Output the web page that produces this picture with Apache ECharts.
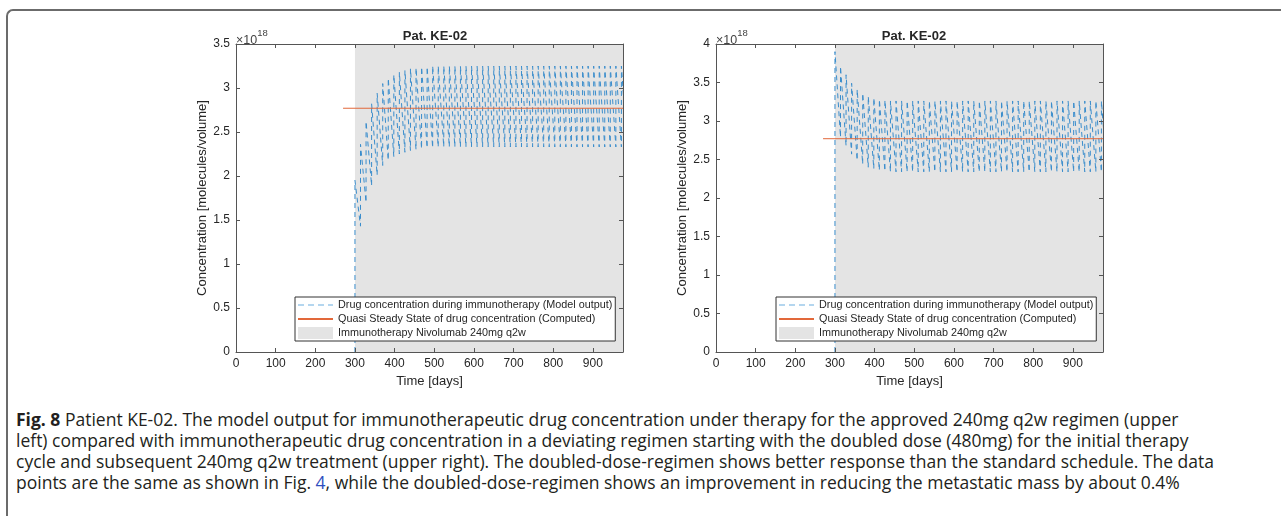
<!DOCTYPE html>
<html>
<head>
<meta charset="utf-8">
<script src="https://cdn.jsdelivr.net/npm/echarts@6/dist/echarts.min.js"></script>
<style>
  html, body { margin: 0; padding: 0; background: #fff; }
  #wrap { position: relative; width: 1281px; height: 516px; overflow: hidden; }
  #frame {
    position: absolute; left: 6px; top: 9px; width: 1300px; height: 560px;
    border-top: 2px solid #6b6b6b; border-left: 2px solid #6b6b6b;
    border-top-left-radius: 7px; box-sizing: border-box;
  }
  #chart { position: absolute; left: 0; top: 0; width: 1281px; height: 400px; }
  #caption {
    position: absolute; left: 16px; top: 409px; white-space: nowrap;
    font-family: 'Open Sans', 'Noto Sans', sans-serif; font-size: 17.5px;
    letter-spacing: 0; line-height: 21px; color: #231f20;
  }
  #caption b { font-weight: 700; }
  #caption .ref { color: #2f4fbf; }
</style>
</head>
<body>
<div id="wrap">
  <div id="frame"></div>
  <div id="chart"></div>
  <div id="caption">
    <div><b>Fig. 8</b> Patient KE-02. The model output for immunotherapeutic drug concentration under therapy for the approved 240mg q2w regimen (upper</div>
    <div>left) compared with immunotherapeutic drug concentration in a deviating regimen starting with the doubled dose (480mg) for the initial therapy</div>
    <div>cycle and subsequent 240mg q2w treatment (upper right). The doubled-dose-regimen shows better response than the standard schedule. The data</div>
    <div>points are the same as shown in Fig. <span class="ref">4</span>, while the doubled-dose-regimen shows an improvement in reducing the metastatic mass by about 0.4%</div>
  </div>
</div>
<script>
// dose days (q2w from day 300); the last entry closes the final cycle past the axis end
const doseDays = [300, 314, 328, 342, 356, 370, 384, 398, 412, 426, 440, 454, 468, 482, 496, 510, 524,
  538, 552, 566, 580, 594, 608, 622, 636, 650, 664, 678, 692, 706, 720, 734, 748, 762, 776, 790,
  804, 818, 832, 846, 860, 874, 888, 902, 916, 930, 944, 958, 972, 986]

// concentration right after each dose and just before the next one (x 1e18)
const leftPeaks = [1.95, 2.36, 2.62, 2.82, 2.94, 3.05, 3.11, 3.15, 3.18, 3.20, 3.22, 3.23, 3.24, 3.24,
  3.25, 3.25, 3.25, 3.25, 3.25, 3.25, 3.25, 3.25, 3.25, 3.25, 3.25, 3.25, 3.25, 3.25, 3.25, 3.25,
  3.25, 3.25, 3.25, 3.25, 3.25, 3.25, 3.25, 3.25, 3.25, 3.25, 3.25, 3.25, 3.25, 3.25, 3.25, 3.25,
  3.25, 3.25, 3.25]
const leftTroughs = [1.43, 1.70, 1.89, 2.01, 2.12, 2.18, 2.22, 2.25, 2.27, 2.29, 2.30, 2.31, 2.32, 2.32,
  2.33, 2.33, 2.33, 2.33, 2.33, 2.33, 2.33, 2.33, 2.33, 2.33, 2.33, 2.33, 2.33, 2.33, 2.33, 2.33,
  2.33, 2.33, 2.33, 2.33, 2.33, 2.33, 2.33, 2.33, 2.33, 2.33, 2.33, 2.33, 2.33, 2.33, 2.33, 2.33,
  2.33, 2.33, 2.33]
const rightPeaks = [3.90, 3.71, 3.60, 3.49, 3.41, 3.36, 3.32, 3.30, 3.28, 3.27, 3.26,
  3.26, 3.26, 3.26, 3.26, 3.26, 3.26, 3.26, 3.26, 3.26, 3.26, 3.26, 3.26, 3.26, 3.26, 3.26, 3.26,
  3.26, 3.26, 3.26, 3.26, 3.26, 3.26, 3.26, 3.26, 3.26, 3.26, 3.26, 3.26, 3.26, 3.26, 3.26, 3.26,
  3.26, 3.26, 3.26, 3.26, 3.26, 3.26]
const rightTroughs = [2.79, 2.68, 2.57, 2.49, 2.44, 2.40, 2.38, 2.36, 2.35, 2.34, 2.34,
  2.34, 2.34, 2.34, 2.34, 2.34, 2.34, 2.34, 2.34, 2.34, 2.34, 2.34, 2.34, 2.34, 2.34, 2.34, 2.34,
  2.34, 2.34, 2.34, 2.34, 2.34, 2.34, 2.34, 2.34, 2.34, 2.34, 2.34, 2.34, 2.34, 2.34, 2.34, 2.34,
  2.34, 2.34, 2.34, 2.34, 2.34, 2.34]

const qssLevel = 2.77
const qssStart = 270
const therapyStart = 300
const xMax = 976
const leftYMax = 3.5
const rightYMax = 4

const NAME_DRUG = 'Drug concentration during immunotherapy (Model output)'
const NAME_QSS = 'Quasi Steady State of drug concentration (Computed)'
const NAME_THER = 'Immunotherapy Nivolumab 240mg q2w'

const FONT = "'Liberation Sans', Arial, Helvetica, sans-serif"
const TXT = '#262626'
const AXIS = '#555'
const BLUE = '#3a8dcc'
const ORANGE = '#e2683a'
const GRAY = '#e4e4e4'

function sawtooth(peaks, troughs) {
  const pts = [[doseDays[0], 0]]
  for (let i = 0; i < peaks.length; i++) {
    pts.push([doseDays[i], peaks[i]])
    pts.push([doseDays[i + 1], troughs[i]])
  }
  return pts
}

function xAxes(gridIndex) {
  const base = {
    type: 'value', gridIndex: gridIndex, min: 0, max: xMax, interval: 100, z: 10,
    splitLine: { show: false },
    axisLine: { show: true, onZero: false, lineStyle: { color: AXIS, width: 1 } },
    axisTick: { show: true, inside: true, length: 4, lineStyle: { color: AXIS } }
  }
  return [
    Object.assign({}, base, {
      position: 'bottom',
      name: 'Time [days]', nameLocation: 'middle', nameGap: 22,
      nameTextStyle: { fontFamily: FONT, fontSize: 13, color: TXT },
      axisLabel: { fontFamily: FONT, fontSize: 12, color: TXT, margin: 6, showMaxLabel: false }
    }),
    Object.assign({}, base, { position: 'top', axisLabel: { show: false } })
  ]
}

function yAxes(gridIndex, yMax) {
  const base = {
    type: 'value', gridIndex: gridIndex, min: 0, max: yMax, interval: 0.5, z: 10,
    splitLine: { show: false },
    axisLine: { show: true, onZero: false, lineStyle: { color: AXIS, width: 1 } },
    axisTick: { show: true, inside: true, length: 4, lineStyle: { color: AXIS } }
  }
  return [
    Object.assign({}, base, {
      position: 'left',
      name: 'Concentration [molecules/volume]', nameLocation: 'middle', nameGap: 26,
      nameTextStyle: { fontFamily: FONT, fontSize: 13, color: TXT },
      axisLabel: { fontFamily: FONT, fontSize: 12, color: TXT, margin: 6 }
    }),
    Object.assign({}, base, { position: 'right', axisLabel: { show: false } })
  ]
}

function panelSeries(axisIndex, yMax, peaks, troughs) {
  return [
    {
      name: NAME_THER, type: 'line', xAxisIndex: axisIndex, yAxisIndex: axisIndex,
      data: [[therapyStart, yMax], [xMax, yMax]],
      symbol: 'none', silent: true, z: 1,
      itemStyle: { color: GRAY },
      lineStyle: { width: 0, opacity: 0 },
      areaStyle: { color: GRAY, opacity: 1 }
    },
    {
      name: NAME_DRUG, type: 'line', xAxisIndex: axisIndex, yAxisIndex: axisIndex,
      data: sawtooth(peaks, troughs),
      symbol: 'none', z: 3,
      itemStyle: { color: BLUE },
      lineStyle: { color: BLUE, width: 1, type: [5, 4] }
    },
    {
      name: NAME_QSS, type: 'line', xAxisIndex: axisIndex, yAxisIndex: axisIndex,
      data: [[qssStart, qssLevel], [xMax, qssLevel]],
      symbol: 'none', z: 4,
      itemStyle: { color: ORANGE },
      lineStyle: { color: ORANGE, width: 1 }
    }
  ]
}

function legendAt(left) {
  return {
    orient: 'vertical', left: left, top: 297,
    backgroundColor: '#fff', borderColor: '#333', borderWidth: 1,
    padding: [2, 3, 2, 2], itemGap: 2, itemWidth: 35, itemHeight: 12,
    selectedMode: false,
    textStyle: { fontFamily: FONT, fontSize: 10.8, color: TXT, lineHeight: 12 },
    data: [
      { name: NAME_DRUG, itemStyle: { opacity: 0 }, lineStyle: { color: '#6aaee0', width: 1.2, type: [6, 4] } },
      { name: NAME_QSS, itemStyle: { opacity: 0 } },
      { name: NAME_THER, icon: 'rect' }
    ]
  }
}

function exponentLabel(x) {
  return {
    type: 'text', left: x, top: 28, z: 20,
    style: {
      text: '{a|\u00d710}{b|18}',
      rich: {
        a: { fontFamily: FONT, fontSize: 12.5, fill: '#444', padding: [6, 0, 0, 0] },
        b: { fontFamily: FONT, fontSize: 9.5, fill: '#444', verticalAlign: 'top' }
      }
    }
  }
}

const chart = echarts.init(document.getElementById('chart'), null, { renderer: 'canvas' })
chart.setOption({
  animation: false,
  title: [
    { text: 'Pat. KE-02', left: 430, top: 25, textAlign: 'center',
      textStyle: { fontFamily: FONT, fontSize: 13, fontWeight: 'bold', color: TXT } },
    { text: 'Pat. KE-02', left: 909, top: 25, textAlign: 'center',
      textStyle: { fontFamily: FONT, fontSize: 13, fontWeight: 'bold', color: TXT } }
  ],
  grid: [
    { left: 236, top: 44, width: 387, height: 308 },
    { left: 716, top: 44, width: 387, height: 308 }
  ],
  xAxis: xAxes(0).concat(xAxes(1)).map((a, i) => Object.assign(a, { gridIndex: Math.floor(i / 2) })),
  yAxis: yAxes(0, leftYMax).concat(yAxes(1, rightYMax)).map((a, i) => Object.assign(a, { gridIndex: Math.floor(i / 2) })),
  legend: [legendAt(295), legendAt(776)],
  graphic: [exponentLabel(236), exponentLabel(716)],
  series: panelSeries(0, leftYMax, leftPeaks, leftTroughs)
    .concat(panelSeries(2, rightYMax, rightPeaks, rightTroughs))
})
</script>
</body>
</html>
